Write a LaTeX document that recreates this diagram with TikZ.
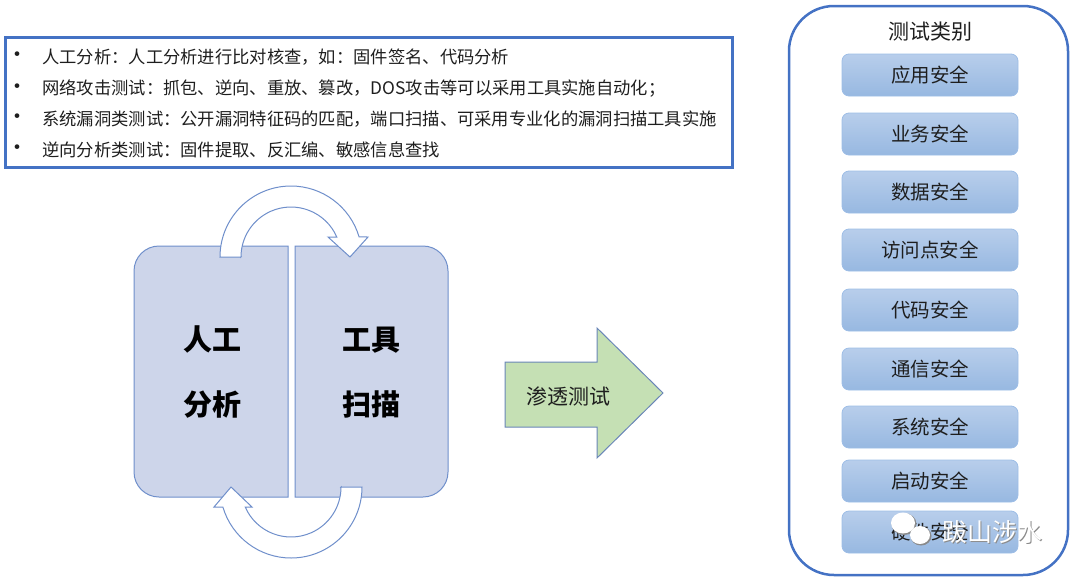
\documentclass[tikz,border=0pt]{standalone}
\usepackage{fontspec}
\setmainfont{Noto Sans CJK SC}
\usetikzlibrary{calc}
\definecolor{frameblue}{HTML}{4472C4}
\definecolor{cyclefill}{HTML}{CDD5EA}
\definecolor{cycleline}{HTML}{6F8FCB}
\definecolor{catTop}{HTML}{B8CEEB}
\definecolor{catBot}{HTML}{97B8E1}
\definecolor{catLine}{HTML}{9DBDE6}
\definecolor{greenfill}{HTML}{C5E0B4}
\definecolor{arrowline}{HTML}{6A86B8}
\definecolor{txt}{HTML}{1E1E1E}
\definecolor{wmshadow}{HTML}{8A8A8A}
\newcommand\fsz[1]{\fontsize{#1}{#1}\selectfont}
\tikzset{
  item/.style={anchor=west, inner sep=0pt, font=\fsz{17.3}, text=txt},
  bulletmark/.style={inner sep=0pt, font=\fsz{22}, text=txt},
  catbox/.style={draw=catLine, line width=0.8pt, rounded corners=7pt,
    top color=catTop, bottom color=catBot, minimum width=176, minimum height=42,
    font=\fsz{19.5}, text=txt, inner sep=0pt},
  cycbox/.style={draw=cycleline, line width=1pt, fill=cyclefill},
  bigtext/.style={align=center, font=\fontsize{29}{65}\selectfont\bfseries, text=black, inner sep=0pt},
  cyclearrow/.style={draw=cycleline, line width=1pt, fill=white},
  wmtext/.style={font=\fsz{25}, inner sep=0pt},
}
\begin{document}
\begin{tikzpicture}[x=1pt, y=-1pt]
\useasboundingbox (0,0) rectangle (1080,579);

% ---------- top text box ----------
\node (topbox) [draw=frameblue, line width=2.5pt, minimum width=727, minimum height=130, anchor=north west, inner sep=0pt] at (4,36) {};
\node (b1) [bulletmark] at (17,57) {•};
\node (b2) [bulletmark] at (17,89) {•};
\node (b3) [bulletmark] at (17,119) {•};
\node (b4) [bulletmark] at (17,150) {•};
\node (l1) [item] at (42,57) {人工分析：人工分析进行比对核查，如：固件签名、代码分析};
\node (l2) [item] at (42,89) {网络攻击测试：抓包、逆向、重放、篡改，DOS攻击等可以采用工具实施自动化；};
\node (l3) [item] at (42,119) {系统漏洞类测试：公开漏洞特征码的匹配，端口扫描、可采用专业化的漏洞扫描工具实施};
\node (l4) [item] at (42,150) {逆向分析类测试：固件提取、反汇编、敏感信息查找};

% ---------- cycle boxes ----------
\path[cycbox] (288,246) -- (159,246) .. controls (145.2,246) and (134,257.2) .. (134,271)
  -- (134,472) .. controls (134,485.8) and (145.2,497) .. (159,497) -- (288,497) -- cycle;
\path[cycbox] (295,246) -- (423,246) .. controls (436.8,246) and (448,257.2) .. (448,271)
  -- (448,472) .. controls (448,485.8) and (436.8,497) .. (423,497) -- (295,497) -- cycle;
\node (manual) [bigtext] at (212,372.5) {人工\\分析};
\node (tool) [bigtext] at (371,372.5) {工具\\扫描};

% ---------- circular arrows ----------
\coordinate (ctop) at (291,257);
\coordinate (cbot) at (291,487);
\path[cyclearrow] ($(ctop)+(-50,0)$) -- ($(ctop)+(-71,0)$)
  arc[start angle=180, end angle=343.6, radius=71]
  -- ($(ctop)+(77,-20)$) -- ($(ctop)+(59,0)$) -- ($(ctop)+(37,-20)$)
  -- ($(ctop)+(45.8,-20)$)
  arc[start angle=336.4, end angle=180, radius=50] -- cycle;
\path[cyclearrow] ($(cbot)+(50,0)$) -- ($(cbot)+(71,0)$)
  arc[start angle=0, end angle=163.6, radius=71]
  -- ($(cbot)+(-77,20)$) -- ($(cbot)+(-60,0)$) -- ($(cbot)+(-39,20)$)
  -- ($(cbot)+(-45.8,20)$)
  arc[start angle=156.4, end angle=0, radius=50] -- cycle;

% ---------- penetration test arrow ----------
\path[draw=arrowline, line width=1pt, fill=greenfill]
  (505,362) -- (597,362) -- (597,328) -- (663,393) -- (597,458) -- (597,427) -- (505,427) -- cycle;
\node (pentest) [font=\fsz{21}, text=txt, inner sep=0pt] at (568,396) {渗透测试};

% ---------- categories panel ----------
\node (panel) [draw=frameblue, line width=2.5pt, rounded corners=45pt, minimum width=279, minimum height=569, inner sep=0pt] at (928.5,290.5) {};
\node (title) [font=\fsz{21}, text=txt, inner sep=0pt] at (930,32) {测试类别};
\node (c1) [catbox] at (930,75) {应用安全};
\node (c2) [catbox] at (930,134) {业务安全};
\node (c3) [catbox] at (930,192) {数据安全};
\node (c4) [catbox] at (930,250) {访问点安全};
\node (c5) [catbox] at (930,310) {代码安全};
\node (c6) [catbox] at (930,369) {通信安全};
\node (c7) [catbox] at (930,427) {系统安全};
\node (c8) [catbox] at (930,481) {启动安全};
\node (c9) [catbox] at (930,532) {硬件安全};

% ---------- watermark ----------
\fill[wmshadow] (904,524) ellipse [x radius=12.5, y radius=11];
\fill[white] (903,523) ellipse [x radius=12, y radius=10.5];
\fill[wmshadow] (921,536) ellipse [x radius=10.5, y radius=9.5];
\fill[white] (920,535) ellipse [x radius=10, y radius=9];
\node (wmshade) [wmtext, text=wmshadow] at (993,533) {跋山涉水};
\node (wmark) [wmtext, text=white] at (992,532) {跋山涉水};
\end{tikzpicture}
\end{document}
